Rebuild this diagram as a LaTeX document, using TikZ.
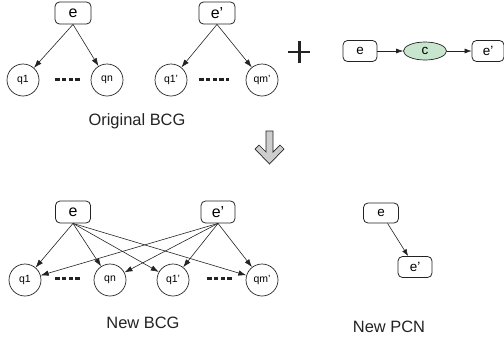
\documentclass[tikz,border=0pt]{standalone}
\usepackage{fontspec}
\setmainfont{Liberation Sans}
\usetikzlibrary{shapes.geometric,arrows.meta}
\definecolor{lgreen}{RGB}{200,230,205}
\definecolor{agray}{RGB}{205,205,205}
\definecolor{ink}{RGB}{35,35,35}
\tikzset{
  bigbox/.style={draw=ink,line width=0.8pt,rounded corners=4.5pt,minimum width=36bp,minimum height=22bp,inner sep=0pt,font=\fontsize{16}{16}\selectfont},
  smallbox/.style={draw=ink,line width=0.8pt,rounded corners=4.5pt,minimum width=34bp,minimum height=21bp,inner sep=0pt,font=\fontsize{13.5}{13.5}\selectfont},
  qnode/.style={draw=ink,line width=0.7pt,circle,minimum size=32bp,inner sep=0pt,font=\fontsize{10.5}{10.5}\selectfont},
  cnode/.style={draw=ink,line width=0.7pt,ellipse,fill=lgreen,minimum width=43bp,minimum height=18bp,inner sep=0pt,font=\fontsize{13.5}{13.5}\selectfont},
  arr/.style={draw=ink,line width=0.6pt,-{Latex[length=8bp,width=5.5bp]}},
  sarr/.style={draw=ink,line width=0.6pt,-{Latex[length=7bp,width=5bp]}},
  dots/.style={draw=ink,line width=3pt,dash pattern=on 4.5bp off 2.3bp},
  caption/.style={font=\fontsize{16.5}{16.5}\selectfont,text=ink}
}
\begin{document}
\begin{tikzpicture}[x=1bp,y=-1bp]
\useasboundingbox (0,0) rectangle (504,339);
% Original BCG
\node[bigbox] (e) at (73,13) {e};
\node[bigbox] (ep) at (217,13) {e'};
\node[qnode] (q1) at (23,80) {q1};
\node[qnode] (qn) at (107,80) {qn};
\node[qnode] (q1p) at (171,80) {q1'};
\node[qnode] (qmp) at (262,80) {qm'};
\draw[arr] (e.south) -- (q1);
\draw[arr] (e.south) -- (qn);
\draw[arr] (ep.south) -- (q1p);
\draw[arr] (ep.south) -- (qmp);
\coordinate (d1a) at (55,79); \coordinate (d1b) at (80,79);
\coordinate (d2a) at (199,79); \coordinate (d2b) at (229,79);
\draw[dots] (d1a) -- (d1b);
\draw[dots] (d2a) -- (d2b);
\node[caption] (cap1) at (137,121) {Original BCG};
% plus
\coordinate (pl) at (299,52);
\draw[ink,line width=3pt] ([xshift=-11bp]pl) -- ([xshift=11bp]pl);
\draw[ink,line width=3pt] ([yshift=-11bp]pl) -- ([yshift=11bp]pl);
% chain
\node[smallbox] (ce) at (360,51) {e};
\node[cnode] (cc) at (425,51) {c};
\node[smallbox,minimum width=32bp] (cep) at (488,51) {e'};
\draw[sarr] (ce) -- (cc);
\draw[sarr] (cc) -- (cep);
% down arrow
\draw[fill=agray,draw=ink,line width=0.7pt,line join=miter]
  (266,131) -- (273,131) -- (273,152) -- (280,145) -- (284,149) -- (269.5,164)
  -- (255,149) -- (259,145) -- (266,152) -- cycle;
% New BCG
\node[bigbox,minimum width=35bp] (ne) at (73,212) {e};
\node[bigbox,minimum width=34bp] (nep) at (218,212) {e'};
\node[qnode] (nq1) at (25,280) {q1};
\node[qnode] (nqn) at (110,280) {qn};
\node[qnode] (nq1p) at (173,280) {q1'};
\node[qnode] (nqmp) at (262,280) {qm'};
\foreach \t in {nq1,nqn,nq1p,nqmp}{
  \draw[arr] (ne.south) -- (\t);
  \draw[arr] (nep.south) -- (\t);
}
\coordinate (d3a) at (55,278); \coordinate (d3b) at (82,278);
\coordinate (d4a) at (207,278); \coordinate (d4b) at (233,278);
\draw[dots] (d3a) -- (d3b);
\draw[dots] (d4a) -- (d4b);
\node[caption] (cap2) at (143,323) {New BCG};
% New PCN
\node[smallbox,minimum width=35bp,minimum height=20bp] (pe) at (381,213) {e};
\node[smallbox,minimum width=34bp,minimum height=21bp] (pep) at (415,267) {e'};
\draw[sarr] (pe) -- (pep);
\node[caption] (cap3) at (389,327) {New PCN};
\end{tikzpicture}
\end{document}
